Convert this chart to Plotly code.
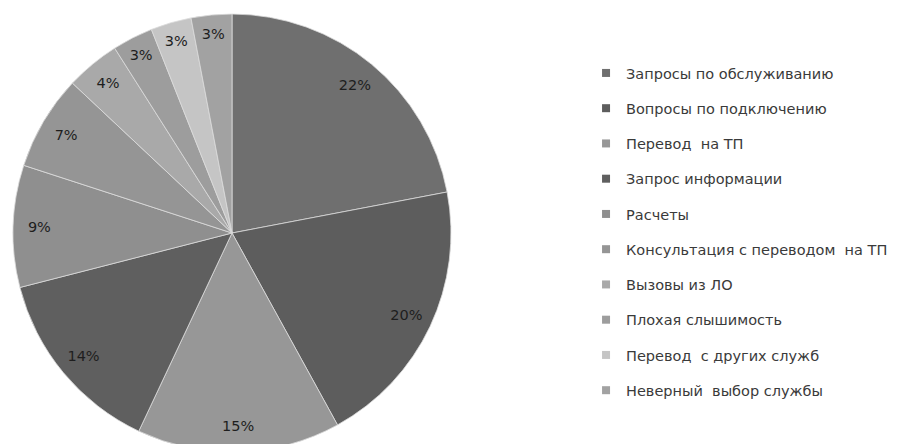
import plotly.graph_objects as go

categories = [
    "Запросы по обслуживанию",
    "Вопросы по подключению",
    "Перевод  на ТП",
    "Запрос информации",
    "Расчеты",
    "Консультация с переводом  на ТП",
    "Вызовы из ЛО",
    "Плохая слышимость",
    "Перевод  с других служб",
    "Неверный  выбор службы",
]
values = [22, 20, 15, 14, 9, 7, 4, 3, 3, 3]
colors = ["#6f6f6f", "#5d5d5d", "#979797", "#5f5f5f", "#8f8f8f",
          "#959595", "#a9a9a9", "#9d9d9d", "#c5c5c5", "#a2a2a2"]

domain = dict(x=[0.0045, 0.4944], y=[0.0, 0.9864])

fig = go.Figure()
# filled pie
fig.add_trace(go.Pie(
    labels=categories, values=values, sort=False, direction="clockwise",
    rotation=0, domain=domain, textinfo="none", hoverinfo="skip",
    marker=dict(colors=colors, line=dict(color="#dcdcdc", width=0.8)),
    showlegend=False,
))
# transparent ring carrying the percentage labels near the outer edge
fig.add_trace(go.Pie(
    labels=categories, values=values, sort=False, direction="clockwise",
    rotation=0, domain=domain, hole=0.76, textinfo="percent",
    textposition="inside", insidetextorientation="horizontal",
    texttemplate="%{percent:.0%}",
    textfont=dict(family="DejaVu Sans", size=14.5, color="#1e1e1e"),
    hoverinfo="skip",
    marker=dict(colors=["rgba(0,0,0,0)"] * len(values), line=dict(width=0)),
    showlegend=False,
))
# legend entries
for i, (name, c) in enumerate(zip(categories, colors)):
    fig.add_trace(go.Scatter(
        x=[None], y=[None], mode="markers", name=name,
        legendgroup=str(i),
        marker=dict(symbol="square", size=8, color=c),
    ))

fig.update_layout(
    width=898, height=444,
    margin=dict(l=0, r=0, t=0, b=0),
    paper_bgcolor="white", plot_bgcolor="white",
    xaxis=dict(visible=False), yaxis=dict(visible=False),
    legend=dict(
        x=0.6437, y=0.8896, xanchor="left", yanchor="top",
        font=dict(family="DejaVu Sans", size=14.5, color="#3a3a3a"),
        tracegroupgap=13.4, itemclick=False, itemdoubleclick=False,
    ),
)

fig.write_html("out.html")
